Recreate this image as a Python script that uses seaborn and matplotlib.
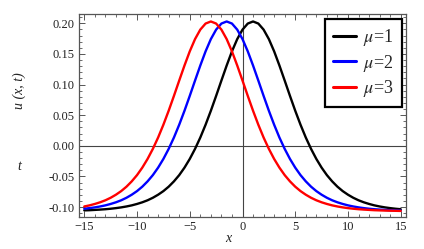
import numpy as np
import pandas as pd
import matplotlib
matplotlib.use("Agg")
import matplotlib.pyplot as plt
from matplotlib.ticker import FormatStrFormatter, MultipleLocator
import seaborn as sns

# ---- data ----
x_values = np.arange(-30, 31) / 2.0   # x grid from -15 to 15, step 0.5

u_mu1 = [-0.1055, -0.1052, -0.1047, -0.1042, -0.1036, -0.1028, -0.1018, -0.1006, -0.0991, -0.0973,
         -0.0950, -0.0923, -0.0890, -0.0849, -0.0799, -0.0740, -0.0668, -0.0581, -0.0479, -0.0357,
         -0.0215, -0.0051, 0.0135, 0.0344, 0.0572, 0.0815, 0.1065, 0.1311, 0.1542, 0.1742,
         0.1897, 0.1996, 0.2030,
         0.1996, 0.1897, 0.1742, 0.1542, 0.1311, 0.1065, 0.0815, 0.0572, 0.0344, 0.0135,
         -0.0051, -0.0215, -0.0357, -0.0479, -0.0581, -0.0668, -0.0740, -0.0799, -0.0849, -0.0890,
         -0.0923, -0.0950, -0.0973, -0.0991, -0.1006, -0.1018, -0.1028, -0.1036]

u_mu2 = [-0.1028, -0.1018, -0.1006, -0.0991, -0.0973, -0.0950, -0.0923, -0.0890, -0.0849, -0.0799,
         -0.0740, -0.0668, -0.0581, -0.0479, -0.0357, -0.0215, -0.0051, 0.0135, 0.0344, 0.0572,
         0.0815, 0.1065, 0.1311, 0.1542, 0.1742, 0.1897, 0.1996, 0.2030,
         0.1996, 0.1897, 0.1742, 0.1542, 0.1311, 0.1065, 0.0815, 0.0572, 0.0344, 0.0135,
         -0.0051, -0.0215, -0.0357, -0.0479, -0.0581, -0.0668, -0.0740, -0.0799, -0.0849, -0.0890,
         -0.0923, -0.0950, -0.0973, -0.0991, -0.1006, -0.1018, -0.1028, -0.1036, -0.1042, -0.1047,
         -0.1052, -0.1055, -0.1058]

u_mu3 = [-0.0991, -0.0973, -0.0950, -0.0923, -0.0890, -0.0849, -0.0799, -0.0740, -0.0668, -0.0581,
         -0.0479, -0.0357, -0.0215, -0.0051, 0.0135, 0.0344, 0.0572, 0.0815, 0.1065, 0.1311,
         0.1542, 0.1742, 0.1897, 0.1996, 0.2030,
         0.1996, 0.1897, 0.1742, 0.1542, 0.1311, 0.1065, 0.0815, 0.0572, 0.0344, 0.0135,
         -0.0051, -0.0215, -0.0357, -0.0479, -0.0581, -0.0668, -0.0740, -0.0799, -0.0849, -0.0890,
         -0.0923, -0.0950, -0.0973, -0.0991, -0.1006, -0.1018, -0.1028, -0.1036, -0.1042, -0.1047,
         -0.1052, -0.1055, -0.1058, -0.1060, -0.1062, -0.1064]

series_labels = [r"$\mu$=1", r"$\mu$=2", r"$\mu$=3"]
series_colors = ["#000000", "#0000ff", "#ff0000"]

x_ticks = [-15, -10, -5, 0, 5, 10, 15]
y_ticks = [-0.10, -0.05, 0.00, 0.05, 0.10, 0.15, 0.20]

# ---- long-form table ----
frames = []
for lab, vals in zip(series_labels, [u_mu1, u_mu2, u_mu3]):
    frames.append(pd.DataFrame({"x": x_values, "u": vals, "series": lab}))
df = pd.concat(frames, ignore_index=True)

sns.set_theme(style="white")
plt.rcParams["font.family"] = ["Liberation Serif", "DejaVu Serif"]
plt.rcParams["mathtext.fontset"] = "stix"

fig = plt.figure(figsize=(4.24, 2.49), dpi=100)
ax = fig.add_axes([79 / 424, 1 - 217 / 249, (406 - 79) / 424, (217 - 14) / 249])

ax.axhline(0, color="#444444", lw=0.8, zorder=1)
ax.axvline(0, color="#444444", lw=0.8, zorder=1)

sns.lineplot(data=df, x="x", y="u", hue="series", palette=series_colors,
             linewidth=1.7, ax=ax, legend=True, zorder=3)

ax.set_xlim(-15.5, 15.5)
ax.set_ylim(-0.1163, 0.2152)
ax.set_xticks(x_ticks)
ax.set_yticks(y_ticks)
ax.yaxis.set_major_formatter(FormatStrFormatter("%.2f"))
ax.xaxis.set_minor_locator(MultipleLocator(1))
ax.yaxis.set_minor_locator(MultipleLocator(0.01))
ax.tick_params(which="both", direction="in", top=True, right=True, bottom=True, left=True,
               colors="#555555", labelcolor="#222222", labelsize=9, pad=3)
ax.tick_params(which="major", length=4, width=0.7)
ax.tick_params(which="minor", length=2, width=0.6)
for s in ax.spines.values():
    s.set_color("#555555")
    s.set_linewidth(0.9)

ax.set_xlabel("")
ax.set_ylabel("")

fig.text(19 / 424, 1 - 91 / 249, "u (x, t)", rotation=90, ha="center", va="center",
         fontsize=10, style="italic", color="#222222")
fig.text(19 / 424, 1 - 166 / 249, "t", ha="center", va="center",
         fontsize=10, style="italic", color="#222222")
fig.text(228 / 424, 1 - 239 / 249, "x", ha="center", va="center",
         fontsize=10, style="italic", color="#222222")

handles, labels = ax.get_legend_handles_labels()
leg = ax.legend(handles, labels, loc="upper right", bbox_to_anchor=(0.988, 0.975),
                frameon=True, fancybox=False, edgecolor="black", framealpha=1,
                fontsize=13, handlelength=1.3, handletextpad=0.4,
                labelspacing=0.25, borderpad=0.45, borderaxespad=0)
leg.get_frame().set_linewidth(1.6)
for line in leg.get_lines():
    line.set_linewidth(2.2)

fig.savefig("out.png", dpi=100)
